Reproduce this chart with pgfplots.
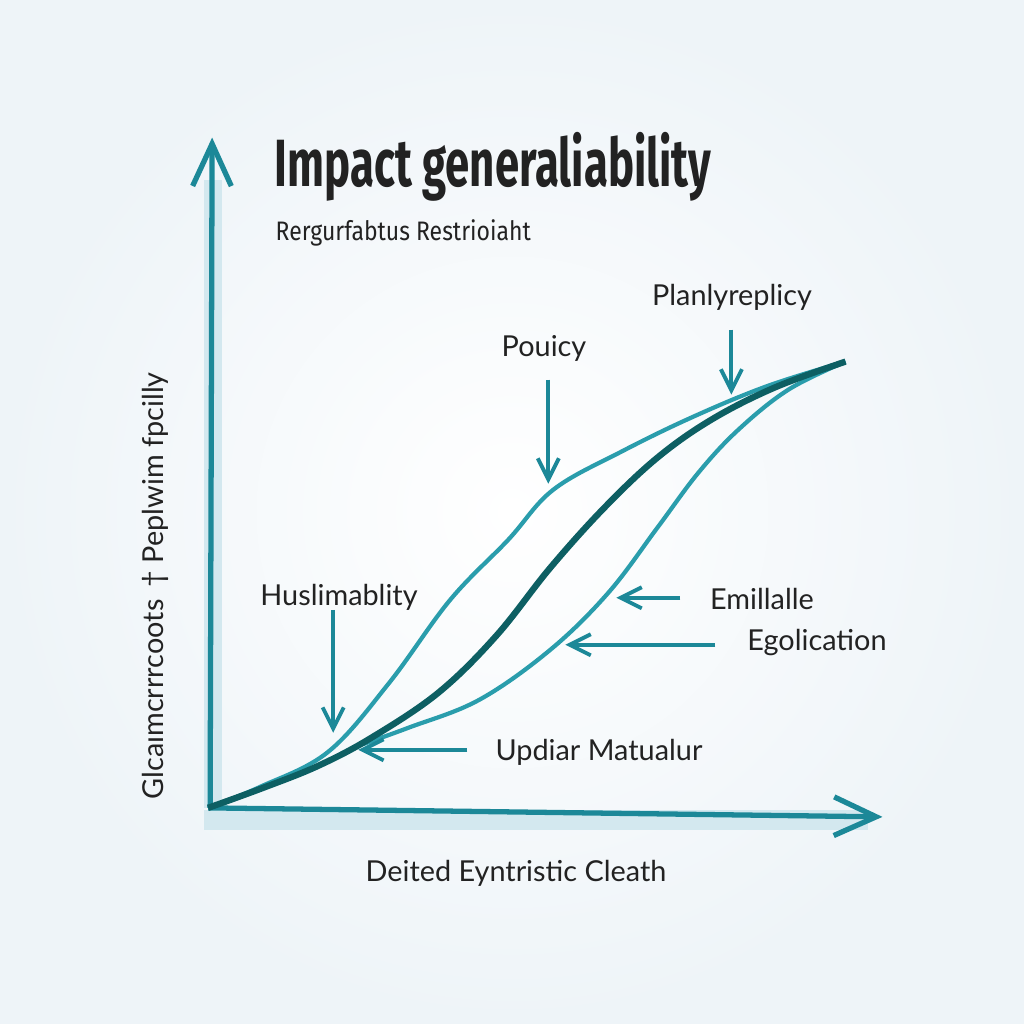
\documentclass[border=0pt]{standalone}
\usepackage{pgfplots}
\pgfplotsset{compat=1.18}
\usepackage{fontspec}
\setmainfont{Lato}
\newfontfamily\titlefont{Fira Sans}
\usetikzlibrary{arrows.meta}
\definecolor{tealax}{HTML}{1C8898}
\definecolor{teallight}{HTML}{2A9DAC}
\definecolor{tealdark}{HTML}{0D5F63}
\definecolor{bgout}{HTML}{EEF4F8}
\definecolor{band}{HTML}{D3E8EF}
\definecolor{txt}{HTML}{222222}
\begin{document}
\begin{tikzpicture}[x=0.01cm,y=0.01cm]
\shade[inner color=white, outer color=bgout] (0,0) rectangle (1024,1024);
\begin{axis}[
  scale only axis, width=6.8cm, height=6.7cm,
  at={(2.08cm,2.16cm)}, anchor=south west,
  xmin=0, xmax=680, ymin=0, ymax=670,
  axis lines=none, clip=false,
  ticks=none,
]
% light bands along axes
\fill[band] (axis cs:-4,0) rectangle (axis cs:14,628);
\fill[band] (axis cs:-4,-2) rectangle (axis cs:660,-22);
% axes
\draw[tealax, line width=1.5pt, -{Straight Barb[length=12pt,width=11pt,line width=1.5pt]}] (axis cs:2,0) -- (axis cs:4,670);
\draw[tealax, line width=1.5pt, -{Straight Barb[length=12pt,width=11pt,line width=1.5pt]}] (axis cs:0,0) -- (axis cs:674,-9);
% curves
\addplot[teallight, line width=1.2pt, smooth, tension=0.6] coordinates {
(0,0) (52,21) (120,56) (181,125) (242,208) (300,268) (345,318) (413,356) (485,391) (560,422) (637,446)};
\addplot[teallight, line width=1.2pt, smooth, tension=0.6] coordinates {
(150,62) (200,80) (271,108) (342,158) (400,215) (449,280) (490,335) (530,378) (580,418) (637,446)};
\addplot[tealdark, line width=1.8pt, smooth, tension=0.6] coordinates {
(0,0) (55,20) (110,42) (163,70) (230,115) (288,172) (342,240) (396,300) (449,350) (503,388) (566,420) (637,446)};
% annotation arrows
\tikzset{ann/.style={tealax, line width=1.1pt, -{Straight Barb[length=6pt,width=6pt,line width=1.1pt]}}}
\draw[ann] (axis cs:125,198) -- (axis cs:125,75);
\draw[ann] (axis cs:340,428) -- (axis cs:340,324);
\draw[ann] (axis cs:523,478) -- (axis cs:523,413);
\draw[ann] (axis cs:472,210) -- (axis cs:408,210);
\draw[ann] (axis cs:507,163) -- (axis cs:357,163);
\draw[ann] (axis cs:259,58) -- (axis cs:150,58);
\end{axis}
% texts (picture coords: x px, y = 1024 - py)
\node[anchor=west, text=txt, inner sep=0pt] at (274,1024-167) {\scalebox{0.655}[1]{\titlefont\fontsize{19pt}{22pt}\selectfont\bfseries Impact generaliability}};
\node[anchor=west, text=txt, inner sep=0pt] at (275,1024-233) {\scalebox{0.86}[1]{\titlefont\fontsize{7.6pt}{9pt}\selectfont Rergurfabtus Restrioiaht}};
\node[text=txt, inner sep=0pt] at (732,1024-297) {\fontsize{8.2pt}{10pt}\selectfont Planlyreplicy};
\node[text=txt, inner sep=0pt] at (544,1024-348) {\fontsize{8.2pt}{10pt}\selectfont Pouicy};
\node[text=txt, inner sep=0pt] at (339,1024-597) {\fontsize{8.2pt}{10pt}\selectfont Huslimablity};
\node[text=txt, inner sep=0pt] at (762,1024-599) {\fontsize{8.2pt}{10pt}\selectfont Emillalle};
\node[text=txt, inner sep=0pt] at (817,1024-643) {\fontsize{8.2pt}{10pt}\selectfont Egolication};
\node[text=txt, inner sep=0pt] at (599,1024-752) {\fontsize{8.2pt}{10pt}\selectfont Updiar Matualur};
\node[text=txt, inner sep=0pt] at (516,1024-873) {\fontsize{8.2pt}{10pt}\selectfont Deited Eyntristic Cleath};
\node[text=txt, inner sep=0pt, rotate=90] at (155,1024-586) {\fontsize{8.2pt}{10pt}\selectfont Glcaımcrrrcoots \,† Peplwim fpcilly};
\end{tikzpicture}
\end{document}
